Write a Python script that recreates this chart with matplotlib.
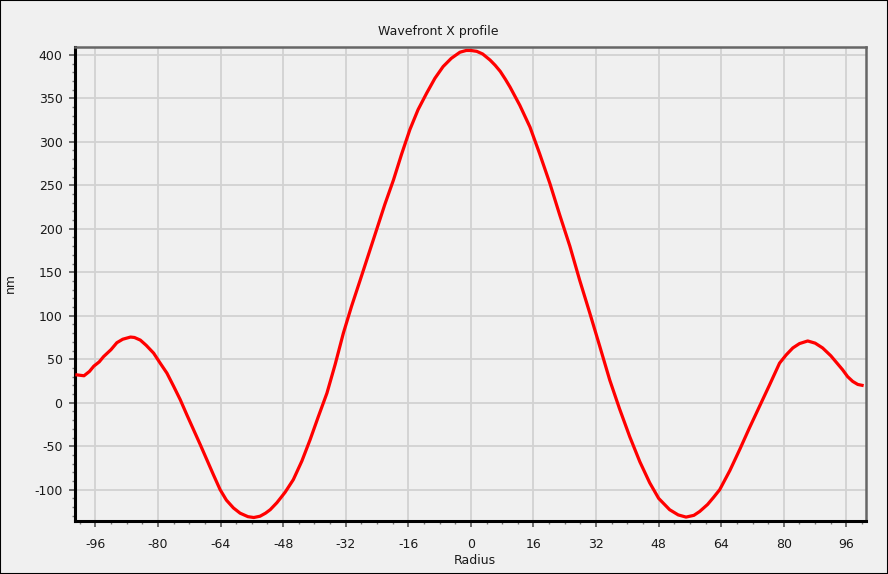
import matplotlib
matplotlib.use("Agg")
import matplotlib.pyplot as plt
from matplotlib.patches import Rectangle
from matplotlib.ticker import MultipleLocator

plt.rcParams.update({
    "font.family": ["DejaVu Sans"],
    "font.size": 9,
    "axes.unicode_minus": False,
})

# profile (radius, nm)
radius = [-100.7, -98.9, -97.5, -96.4, -95.0, -93.9, -92.0, -90.5, -89.0,
          -87.0, -86.0, -84.5, -83.0, -81.1, -79.5, -77.7, -76.0, -74.3,
          -72.6, -70.9, -69.2, -67.5, -65.8, -64.1, -62.5, -60.7, -59.0,
          -57.0, -55.5, -53.9, -52.5, -51.3, -49.6, -47.5, -45.4, -43.2,
          -41.1, -39.0, -36.8, -34.7, -32.6, -30.5, -28.3, -26.2, -24.1,
          -22.0, -19.8, -17.7, -15.6, -13.5, -11.3, -9.2, -7.1, -5.0,
          -2.8, -1.2, 0.0, 1.5, 3.0, 4.9, 6.2, 7.5, 8.8, 10.0, 12.5,
          15.1, 17.6, 20.2, 22.7, 25.3, 27.8, 30.4, 33.0, 35.5, 38.0,
          40.6, 43.2, 45.7, 48.0, 50.8, 53.0, 55.0, 57.0, 58.5, 60.5,
          62.0, 63.6, 66.2, 68.7, 71.2, 73.8, 76.4, 78.9, 80.6, 82.3,
          84.0, 86.1, 88.0, 89.9, 92.0, 93.5, 95.0, 96.3, 97.6, 98.9,
          100.0]
wavefront = [32, 31, 36, 42, 47, 53, 61, 69, 73,
             75.5, 75, 72, 66, 57, 46, 34, 19, 3.5,
             -14, -31, -48, -65.5, -83, -100, -112, -121, -127,
             -131, -132, -130.5, -127, -123, -115, -103, -88.5, -67,
             -42.5, -16, 11, 44, 80, 111, 141, 170, 199,
             228, 256, 286, 314, 337, 356, 373, 386.5, 396,
             403, 405, 405, 404, 401, 394, 388, 381, 372, 363, 342,
             317, 286, 252, 216, 180, 141, 103, 64, 26, -7,
             -39, -68, -92, -110, -123, -129, -131.5, -129.5, -125, -117,
             -109, -100, -78, -54, -29, -4, 21, 45.5, 55, 63,
             68, 71, 68.5, 63, 54, 46, 38, 30, 24.5, 21,
             20]

x_ticks = list(range(-96, 97, 16))
y_ticks = list(range(-100, 401, 50))

fig = plt.figure(figsize=(8.88, 5.74), dpi=100, facecolor="#f0f0f0")
ax = fig.add_axes([75 / 888, 1 - 521 / 574, 791 / 888, 474 / 574])
ax.set_facecolor("#f0f0f0")

ax.plot(radius, wavefront, color="#ff0000", lw=2.3, zorder=3,
        solid_joinstyle="round")

ax.set_xlim(-101.2, 101)
ax.set_ylim(-136, 409)
ax.set_xticks(x_ticks)
ax.set_yticks(y_ticks)
ax.xaxis.set_minor_locator(MultipleLocator(4))
ax.yaxis.set_minor_locator(MultipleLocator(10))
ax.grid(True, which="major", color="#d2d2d2", lw=1.3, zorder=0)
ax.set_axisbelow(True)

ax.tick_params(which="major", direction="out", length=4, width=1.2,
               color="#555555", labelcolor="#1a1a1a")
ax.tick_params(which="minor", direction="out", length=2.5, width=1.0,
               color="#777777")
ax.tick_params(axis="x", which="major", pad=8)
ax.tick_params(axis="y", which="major", pad=5)

for side in ("left", "bottom"):
    ax.spines[side].set_color("black")
    ax.spines[side].set_linewidth(2.2)
for side in ("top", "right"):
    ax.spines[side].set_color("#666666")
    ax.spines[side].set_linewidth(1.8)

fig.text(438 / 888, 1 - 31 / 574, "Wavefront X profile", ha="center",
         va="center", color="#1a1a1a")
fig.text(475 / 888, 1 - 561 / 574, "Radius", ha="center", va="center",
         color="#1a1a1a")
fig.text(10 / 888, 1 - 283 / 574, "nm", ha="center", va="center",
         rotation=90, color="#1a1a1a")

fig.patches.append(Rectangle((0, 0), 1, 1, transform=fig.transFigure,
                             fill=False, edgecolor="black", lw=1.5))

fig.savefig("out.png", dpi=100, facecolor=fig.get_facecolor())
